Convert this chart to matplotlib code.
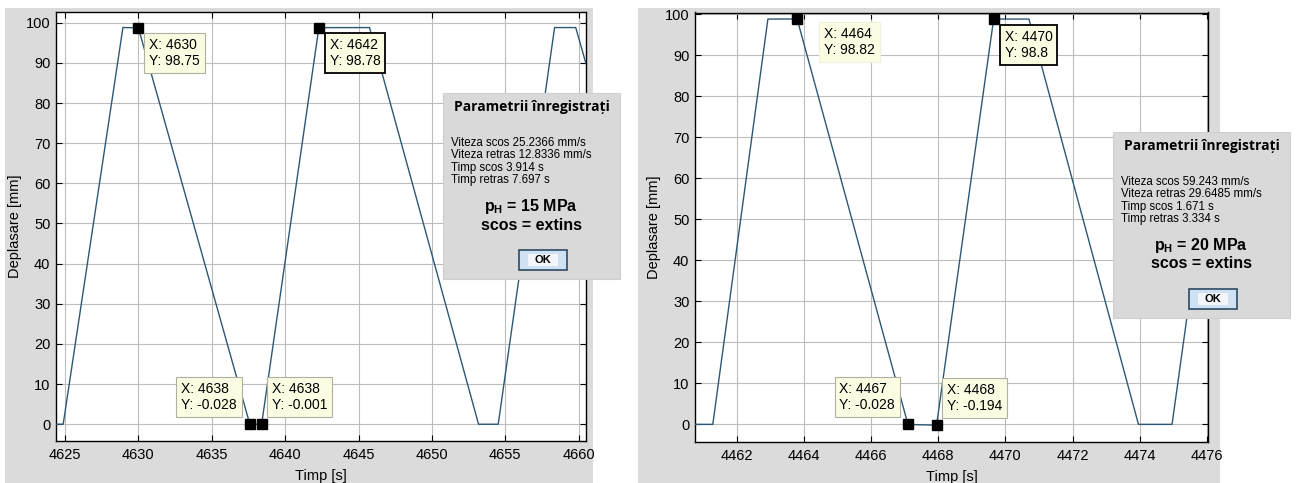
import matplotlib
matplotlib.use("Agg")
import matplotlib.pyplot as plt
from matplotlib.patches import Rectangle

# date
t_15 = [4624.39, 4624.88, 4628.95, 4630.0, 4637.6, 4638.4, 4642.3, 4645.75, 4653.18, 4654.52, 4658.36, 4659.8, 4660.5]
d_15 = [0, 0, 98.8, 98.75, -0.028, -0.001, 98.78, 98.8, 0, 0, 98.8, 98.8, 89.8]
tips_t_15 = [4630.0, 4642.3, 4637.6, 4638.4]
tips_d_15 = [98.75, 98.78, -0.028, -0.001]

t_20 = [4460.76, 4461.29, 4462.93, 4463.8, 4467.1, 4467.95, 4469.65, 4470.7, 4473.96, 4474.96, 4476.03]
d_20 = [0, 0, 98.8, 98.82, -0.028, -0.194, 98.8, 98.8, 0, 0, 63.0]
tips_t_20 = [4463.8, 4469.65, 4467.1, 4467.95]
tips_d_20 = [98.82, 98.8, -0.028, -0.194]

xticks_15 = [4625, 4630, 4635, 4640, 4645, 4650, 4655, 4660]
xticks_20 = [4462, 4464, 4466, 4468, 4470, 4472, 4474, 4476]
yticks = [0, 10, 20, 30, 40, 50, 60, 70, 80, 90, 100]

params_15 = ["Viteza scos 25.2366 mm/s", "Viteza retras 12.8336 mm/s", "Timp scos 3.914 s", "Timp retras 7.697 s"]
params_20 = ["Viteza scos 59.243 mm/s", "Viteza retras 29.6485 mm/s", "Timp scos 1.671 s", "Timp retras 3.334 s"]
presiune_15 = 15
presiune_20 = 20

plt.rcParams['font.family'] = ['Liberation Sans', 'DejaVu Sans']
plt.rcParams['mathtext.fontset'] = 'custom'
plt.rcParams['mathtext.rm'] = 'Liberation Sans'
plt.rcParams['mathtext.bf'] = 'Liberation Sans:bold'

W, H = 1296, 483
LINE = '#2d5873'
GRAY = '#dbdbdb'


def fx(x):
    return x / W


def fy(y):
    return 1 - y / H


fig = plt.figure(figsize=(W / 100, H / 100), dpi=100)
fig.patch.set_facecolor('white')

for x0, x1 in [(5, 593), (638, 1220)]:
    fig.add_artist(Rectangle((fx(x0), 0), (x1 - x0) / W, fy(8), transform=fig.transFigure,
                             facecolor=GRAY, edgecolor='none', zorder=-1))


def make_axes(box, t, d, tips_t, tips_d, xticks, xlim, ylim, tip_style):
    x0, y0, x1, y1 = box
    ax = fig.add_axes([fx(x0), fy(y1), (x1 - x0) / W, (y1 - y0) / H])
    ax.plot(t, d, color=LINE, lw=1.0, zorder=3)
    ax.plot(tips_t, tips_d, 's', color='black', ms=7, zorder=5)
    ax.set_xlim(xlim)
    ax.set_ylim(ylim)
    ax.set_xticks(xticks)
    ax.set_yticks(yticks)
    ax.grid(True, color='#bdbdbd', lw=0.8)
    ax.set_axisbelow(True)
    ax.tick_params(direction='in', length=4, width=0.8, top=True, right=True, labelsize=10.5)
    ax.tick_params(axis='x', pad=5)
    ax.tick_params(axis='y', pad=4)
    for s in ax.spines.values():
        s.set_linewidth(1.0)
    ax.set_xlabel('Timp [s]', fontsize=10.5, labelpad=5)
    ax.set_ylabel('Deplasare [mm]', fontsize=10.5, labelpad=3)

    for (tt, dd), (dx, dy, ha, va, edge, lw) in zip(zip(tips_t, tips_d), tip_style):
        ax.annotate(f"X: {round(tt)}\nY: {dd:g}", xy=(tt, dd), xytext=(dx, dy),
                    textcoords='offset pixels', ha=ha, va=va, multialignment='left',
                    fontsize=10, annotation_clip=False, zorder=6,
                    bbox=dict(boxstyle='square,pad=0.35', facecolor='#fcfce3',
                              edgecolor=edge, lw=lw))
    return ax


style_15 = [(11, -10, 'left', 'top', '#b0b0a0', 0.8),
            (11, -10, 'left', 'top', 'black', 1.3),
            (-13, 12, 'right', 'bottom', '#b0b0a0', 0.8),
            (10, 12, 'left', 'bottom', '#b0b0a0', 0.8)]
style_20 = [(27, -8, 'left', 'top', '#f0f0dc', 0.8),
            (11, -11, 'left', 'top', 'black', 1.3),
            (-13, 12, 'right', 'bottom', '#b0b0a0', 0.8),
            (10, 12, 'left', 'bottom', '#b0b0a0', 0.8)]

make_axes((56, 12.3, 586, 440.7), t_15, d_15, tips_t_15, tips_d_15, xticks_15,
          (4624.39, 4660.5), (-4.1, 102.6), style_15)
make_axes((695, 12.5, 1208, 442), t_20, d_20, tips_t_20, tips_d_20, xticks_20,
          (4460.76, 4476.03), (-4.3, 100.4), style_20)


def dialog(x0, y0, params, presiune):
    w, h = 177, 186
    cx = x0 + w / 2
    fig.add_artist(Rectangle((fx(x0), fy(y0 + h)), w / W, h / H, transform=fig.transFigure,
                             facecolor='#d9d9d9', edgecolor='#cfcfcf', lw=0.8, zorder=10))
    fig.text(fx(cx), fy(y0 + 14), 'Parametrii înregistrați', ha='center', va='center',
             fontsize=10, fontweight='bold', family=['Open Sans', 'DejaVu Sans'], zorder=11)
    for i, p in enumerate(params):
        fig.text(fx(x0 + 8), fy(y0 + 50 + 12.3 * i), p, ha='left', va='center',
                 fontsize=8.3, zorder=11)
    fig.text(fx(cx), fy(y0 + 114), r'p$_{\mathbf{H}}$ = %d MPa' % presiune, ha='center', va='center',
             fontsize=11.5, fontweight='bold', zorder=11)
    fig.text(fx(cx), fy(y0 + 132), 'scos = extins', ha='center', va='center',
             fontsize=11.5, fontweight='bold', zorder=11)
    bx = cx + 11
    fig.add_artist(Rectangle((fx(bx - 24), fy(y0 + 177)), 48 / W, 20 / H, transform=fig.transFigure,
                             facecolor='#cfe1f2', edgecolor='#2b4a63', lw=1.2, zorder=11))
    fig.add_artist(Rectangle((fx(bx - 15), fy(y0 + 173)), 30 / W, 12 / H, transform=fig.transFigure,
                             facecolor='#f2f6fa', edgecolor='none', zorder=12))
    fig.text(fx(bx), fy(y0 + 167), 'OK', ha='center', va='center', fontsize=8,
             fontweight='bold', zorder=13)


dialog(443, 93, params_15, presiune_15)
dialog(1113, 132, params_20, presiune_20)

fig.savefig('out.png', dpi=100)
